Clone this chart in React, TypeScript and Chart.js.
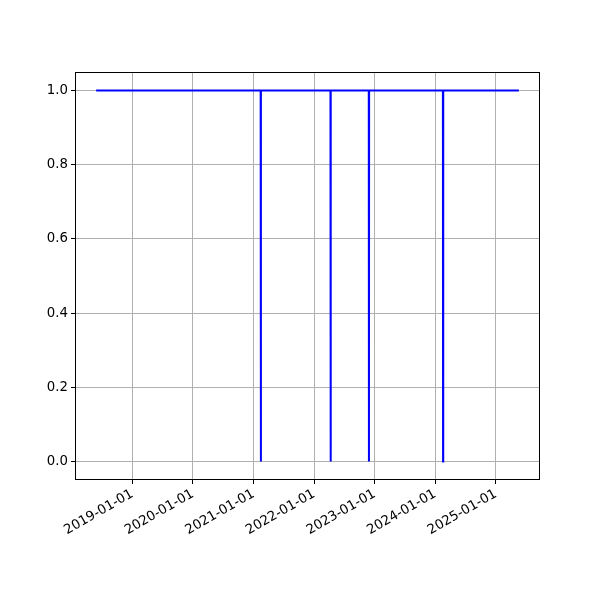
import React, { useEffect, useRef } from "react";
import { Chart, registerables } from "chart.js";

Chart.register(...registerables);

const dates: string[] = [
  "2018-05-28",
  "2021-02-13", "2021-02-14", "2021-02-15",
  "2022-04-10", "2022-04-11", "2022-04-12",
  "2022-11-27", "2022-11-28", "2022-11-29",
  "2024-02-17", "2024-02-18", "2024-02-19",
  "2025-05-20",
];
const values: number[] = [1, 1, 0, 1, 1, 0, 1, 1, 0, 1, 1, 0, 1, 1];
const xTickLabels: string[] = [
  "2019-01-01", "2020-01-01", "2021-01-01", "2022-01-01",
  "2023-01-01", "2024-01-01", "2025-01-01",
];
const yTicks: number[] = [0, 0.2, 0.4, 0.6, 0.8, 1.0];

const toMs = (s: string) => Date.parse(s + "T00:00:00Z");

export default function App() {
  const ref = useRef<HTMLCanvasElement>(null);
  useEffect(() => {
    const pts = dates.map((d, i) => ({ x: toMs(d), y: values[i] }));
    const xs = pts.map((p) => p.x);
    const minX = Math.min(...xs);
    const maxX = Math.max(...xs);
    const pad = (maxX - minX) * 0.05;
    const tickVals = xTickLabels.map(toMs);
    const font = { family: "DejaVu Sans", size: 13.3 };
    const frame = {
      id: "frame",
      afterDraw(c: any) {
        const { ctx, chartArea: a } = c;
        ctx.save();
        ctx.strokeStyle = "#000";
        ctx.lineWidth = 1;
        ctx.strokeRect(a.left + 0.5, a.top + 0.5, a.right - a.left - 1, a.bottom - a.top - 1);
        ctx.restore();
      },
    };
    const chart = new Chart(ref.current!, {
      type: "line",
      data: {
        datasets: [
          {
            data: pts,
            borderColor: "#0000ff",
            borderWidth: 2,
            pointRadius: 0,
            tension: 0,
          },
        ],
      },
      options: {
        animation: false,
        responsive: false,
        maintainAspectRatio: false,
        layout: { padding: { left: 0, top: 72, right: 60, bottom: 0 } },
        plugins: { legend: { display: false }, tooltip: { enabled: false } },
        scales: {
          x: {
            type: "linear",
            min: minX - pad,
            max: maxX + pad,
            afterBuildTicks: (s: any) => {
              s.ticks = tickVals.map((v) => ({ value: v }));
            },
            afterFit: (s: any) => {
              s.height = 120;
            },
            ticks: {
              color: "#000",
              font,
              autoSkip: false,
              minRotation: 30,
              maxRotation: 30,
              padding: 2,
              callback: (v: any) => {
                const i = tickVals.indexOf(Number(v));
                return i >= 0 ? xTickLabels[i] : "";
              },
            },
            grid: { color: "#b0b0b0", lineWidth: 1, tickLength: 4, tickColor: "#000" },
            border: { display: false },
          },
          y: {
            type: "linear",
            min: -0.05,
            max: 1.05,
            afterBuildTicks: (s: any) => {
              s.ticks = yTicks.map((v) => ({ value: v }));
            },
            afterFit: (s: any) => {
              s.width = 75;
            },
            ticks: {
              color: "#000",
              font,
              padding: 3,
              callback: (v: any) => Number(v).toFixed(1),
            },
            grid: { color: "#b0b0b0", lineWidth: 1, tickLength: 4, tickColor: "#000" },
            border: { display: false },
          },
        },
      },
      plugins: [frame],
    });
    return () => chart.destroy();
  }, []);
  return (
    <div style={{ position: "fixed", left: 0, top: 0, width: 600, height: 600, background: "#fff" }}>
      <canvas ref={ref} width={600} height={600} style={{ width: 600, height: 600 }} />
    </div>
  );
}
